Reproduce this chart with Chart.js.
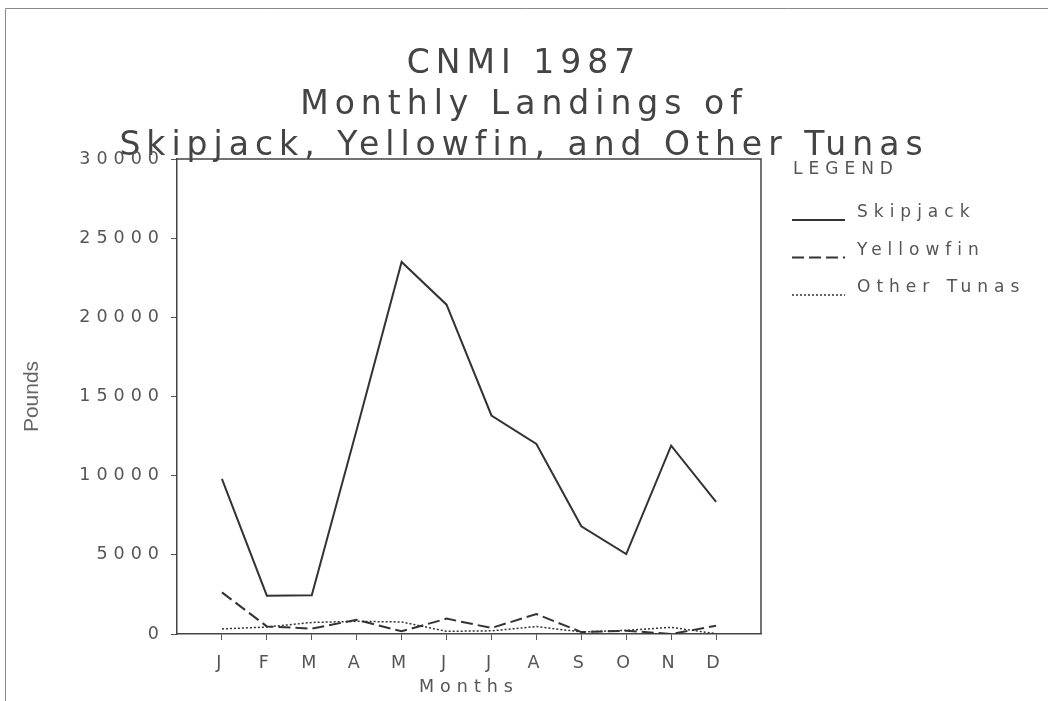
<!DOCTYPE html>
<html>
<head>
<meta charset="utf-8">
<title>CNMI 1987 Monthly Landings</title>
<script src="https://cdn.jsdelivr.net/npm/chart.js@4.4.0/dist/chart.umd.min.js"></script>
<style>
  html, body { margin: 0; padding: 0; background: #fff; }
  canvas { display: block; }
</style>
</head>
<body>
<canvas id="myChart" width="1048" height="701"></canvas>
<script>
// data (pounds per month)
const months = ['J', 'F', 'M', 'A', 'M', 'J', 'J', 'A', 'S', 'O', 'N', 'D'];
const skipjack = [9800, 2420, 2450, 12900, 23500, 20800, 13800, 12000, 6800, 5050, 11900, 8350];
const yellowfin = [2630, 480, 340, 900, 170, 970, 380, 1260, 120, 210, 0, 520];
const otherTunas = [320, 440, 730, 800, 760, 170, 200, 470, 130, 230, 420, 20];
const yMax = 30000;
const yStep = 5000;

const titleLines = ['CNMI 1987', 'Monthly Landings of', 'Skipjack, Yellowfin, and Other Tunas'];

const ink = '#333';
const textColor = '#555';
const mainFont = "'DejaVu Sans', 'Liberation Sans', sans-serif";
const spacing = '6px';

function toPoints(values) {
  return values.map((v, i) => ({ x: i + 1, y: v }));
}

// wide lettering like the old plotter font, switched off for the y title
const lettering = {
  id: 'lettering',
  beforeUpdate(chart) { chart.ctx.letterSpacing = spacing; },
  beforeDraw(chart) { chart.ctx.letterSpacing = spacing; },
  afterDatasetsDraw(chart) { chart.ctx.letterSpacing = '0px'; }
};

// page frame, top/right edges of the plot box and the legend on the right
const frameAndLegend = {
  id: 'frameAndLegend',
  afterDraw(chart) {
    const ctx = chart.ctx;
    const area = chart.chartArea;
    ctx.save();
    ctx.strokeStyle = '#888';
    ctx.lineWidth = 1;
    ctx.beginPath();
    ctx.moveTo(5.5, 701);
    ctx.lineTo(5.5, 8.5);
    ctx.lineTo(1048, 8.5);
    ctx.stroke();

    ctx.strokeStyle = '#444';
    ctx.lineWidth = 1.5;
    ctx.beginPath();
    ctx.moveTo(area.left, area.top);
    ctx.lineTo(area.right, area.top);
    ctx.lineTo(area.right, area.bottom);
    ctx.stroke();

    ctx.letterSpacing = spacing;
    ctx.font = '17px ' + mainFont;
    ctx.fillStyle = textColor;
    ctx.textBaseline = 'middle';
    ctx.textAlign = 'left';
    ctx.fillText('LEGEND', 793, 170);

    chart.data.datasets.forEach((ds, i) => {
      const y = 213 + 37.5 * i;
      ctx.save();
      ctx.strokeStyle = ds.borderColor;
      ctx.lineWidth = ds.borderWidth;
      ctx.setLineDash(ds.borderDash || []);
      ctx.beginPath();
      ctx.moveTo(792, y + 7);
      ctx.lineTo(845, y + 7);
      ctx.stroke();
      ctx.restore();
      ctx.fillText(ds.label, 857, y);
    });
    ctx.restore();
  }
};

new Chart(document.getElementById('myChart'), {
  type: 'line',
  data: {
    datasets: [{
      label: 'Skipjack',
      data: toPoints(skipjack),
      borderColor: ink,
      borderWidth: 2,
      borderDash: [],
      pointRadius: 0,
      tension: 0
    }, {
      label: 'Yellowfin',
      data: toPoints(yellowfin),
      borderColor: ink,
      borderWidth: 2,
      borderDash: [12, 5],
      pointRadius: 0,
      tension: 0
    }, {
      label: 'Other Tunas',
      data: toPoints(otherTunas),
      borderColor: ink,
      borderWidth: 1.5,
      borderDash: [2, 2],
      pointRadius: 0,
      tension: 0
    }]
  },
  options: {
    responsive: false,
    animation: false,
    devicePixelRatio: 1,
    layout: { padding: 0 },
    plugins: {
      legend: { display: false },
      tooltip: { enabled: false },
      title: {
        display: true,
        text: titleLines,
        color: '#444',
        font: { family: mainFont, size: 33, weight: 'normal', lineHeight: 41 / 33 },
        padding: { top: 44, bottom: -8 }
      }
    },
    scales: {
      x: {
        type: 'linear',
        min: 0,
        max: months.length + 1,
        afterBuildTicks: axis => {
          axis.ticks = axis.ticks.filter(t => t.value >= 1 && t.value <= months.length);
        },
        afterFit: axis => { axis.height = 67; },
        ticks: {
          stepSize: 1,
          autoSkip: false,
          maxRotation: 0,
          padding: 13,
          color: textColor,
          font: { family: mainFont, size: 17.5 },
          callback: v => months[v - 1] || ''
        },
        grid: { drawOnChartArea: false, tickLength: 6, color: '#555' },
        border: { color: '#444', width: 1.5 },
        title: {
          display: true,
          text: 'Months',
          color: textColor,
          font: { family: mainFont, size: 17.5 },
          padding: { top: 0, bottom: 3 }
        }
      },
      y: {
        min: 0,
        max: yMax,
        afterFit: axis => { axis.width = 177; },
        ticks: {
          stepSize: yStep,
          padding: 6,
          color: textColor,
          font: { family: mainFont, size: 17.5 },
          callback: v => String(v)
        },
        grid: { drawOnChartArea: false, tickLength: 6, color: '#555', z: 1 },
        border: { color: '#444', width: 1.5, z: 1 },
        title: {
          display: true,
          text: 'Pounds',
          color: '#666',
          font: { family: "'Liberation Sans Narrow', 'Liberation Sans', sans-serif", size: 21 },
          padding: { top: 20, bottom: 0 }
        }
      },
      xTop: {
        axis: 'x',
        type: 'linear',
        position: 'top',
        afterFit: axis => { axis.height = 0; },
        ticks: { display: false },
        grid: { display: false },
        border: { display: false }
      },
      yRight: {
        axis: 'y',
        type: 'linear',
        position: 'right',
        afterFit: axis => { axis.width = 287; },
        ticks: { display: false },
        grid: { display: false },
        border: { display: false }
      }
    }
  },
  plugins: [lettering, frameAndLegend]
});
</script>
</body>
</html>
